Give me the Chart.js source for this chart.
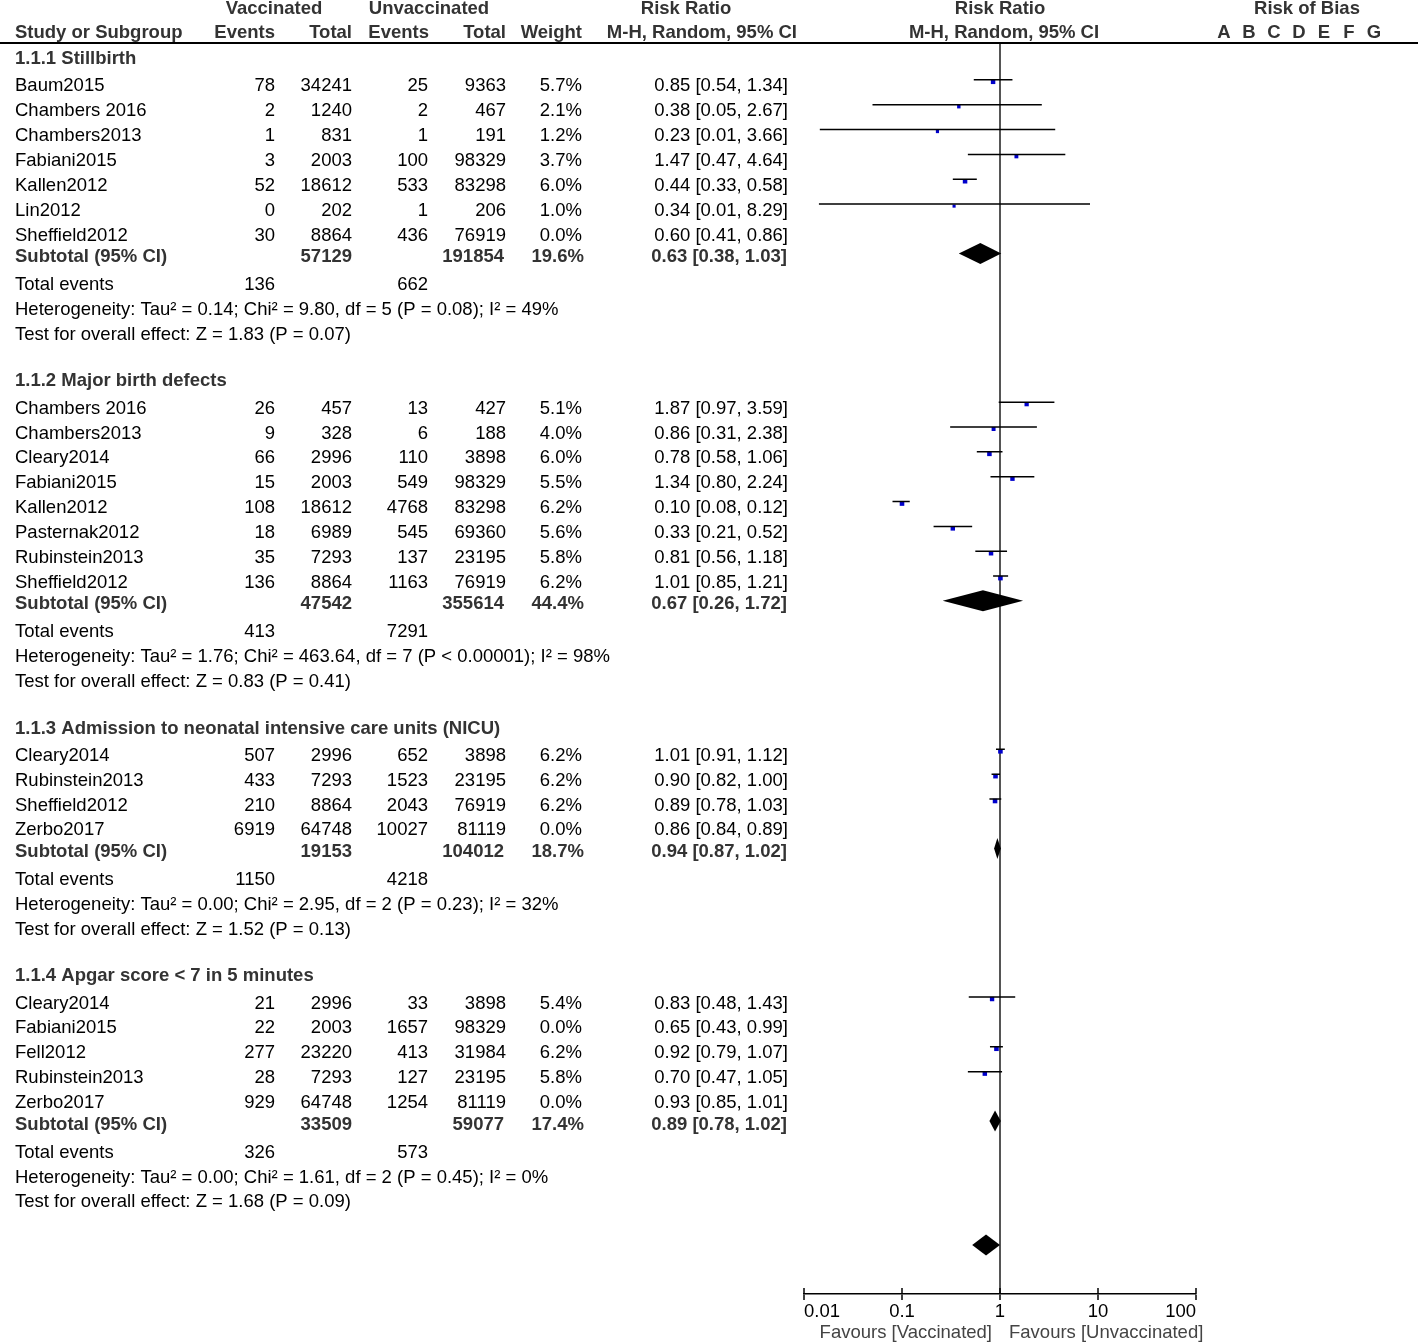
<!DOCTYPE html>
<html>
<head>
<meta charset="utf-8">
<script src="https://cdn.jsdelivr.net/npm/chart.js@4.4.1/dist/chart.umd.min.js"></script>
<style>
  html, body { margin: 0; padding: 0; background: #fff; }
  #wrap { width: 1418px; height: 1343px; position: relative; }
</style>
</head>
<body>
<div id="wrap"><canvas id="forest"></canvas></div>
<script>
// ---- data ----
const groupNames = [
  '1.1.1 Stillbirth',
  '1.1.2 Major birth defects',
  '1.1.3 Admission to neonatal intensive care units (NICU)',
  '1.1.4 Apgar score < 7 in 5 minutes'
];
const studyGroup = [0, 0, 0, 0, 0, 0, 0, 1, 1, 1, 1, 1, 1, 1, 1, 2, 2, 2, 2, 3, 3, 3, 3, 3];
const studies = [
  'Baum2015', 'Chambers 2016', 'Chambers2013', 'Fabiani2015', 'Kallen2012', 'Lin2012', 'Sheffield2012',
  'Chambers 2016', 'Chambers2013', 'Cleary2014', 'Fabiani2015', 'Kallen2012', 'Pasternak2012', 'Rubinstein2013', 'Sheffield2012',
  'Cleary2014', 'Rubinstein2013', 'Sheffield2012', 'Zerbo2017',
  'Cleary2014', 'Fabiani2015', 'Fell2012', 'Rubinstein2013', 'Zerbo2017'
];
const vaccEvents   = [78, 2, 1, 3, 52, 0, 30,  26, 9, 66, 15, 108, 18, 35, 136,  507, 433, 210, 6919,  21, 22, 277, 28, 929];
const vaccTotal    = [34241, 1240, 831, 2003, 18612, 202, 8864,  457, 328, 2996, 2003, 18612, 6989, 7293, 8864,  2996, 7293, 8864, 64748,  2996, 2003, 23220, 7293, 64748];
const unvaccEvents = [25, 2, 1, 100, 533, 1, 436,  13, 6, 110, 549, 4768, 545, 137, 1163,  652, 1523, 2043, 10027,  33, 1657, 413, 127, 1254];
const unvaccTotal  = [9363, 467, 191, 98329, 83298, 206, 76919,  427, 188, 3898, 98329, 83298, 69360, 23195, 76919,  3898, 23195, 76919, 81119,  3898, 98329, 31984, 23195, 81119];
const weights      = [5.7, 2.1, 1.2, 3.7, 6.0, 1.0, 0.0,  5.1, 4.0, 6.0, 5.5, 6.2, 5.6, 5.8, 6.2,  6.2, 6.2, 6.2, 0.0,  5.4, 0.0, 6.2, 5.8, 0.0];
const rr           = [0.85, 0.38, 0.23, 1.47, 0.44, 0.34, 0.60,  1.87, 0.86, 0.78, 1.34, 0.10, 0.33, 0.81, 1.01,  1.01, 0.90, 0.89, 0.86,  0.83, 0.65, 0.92, 0.70, 0.93];
// the two lowest bounds print as 0.01 but are plotted a little above it
const rrLow        = [0.54, 0.05, 0.0145, 0.47, 0.33, 0.0142, 0.41,  0.97, 0.31, 0.58, 0.80, 0.08, 0.21, 0.56, 0.85,  0.91, 0.82, 0.78, 0.84,  0.48, 0.43, 0.79, 0.47, 0.85];
const rrHigh       = [1.34, 2.67, 3.66, 4.64, 0.58, 8.29, 0.86,  3.59, 2.38, 1.06, 2.24, 0.12, 0.52, 1.18, 1.21,  1.12, 1.00, 1.03, 0.89,  1.43, 0.99, 1.07, 1.05, 1.01];

const subVaccTotal   = [57129, 47542, 19153, 33509];
const subUnvaccTotal = [191854, 355614, 104012, 59077];
const subWeight      = [19.6, 44.4, 18.7, 17.4];
const subRR          = [0.63, 0.67, 0.94, 0.89];
const subLow         = [0.38, 0.26, 0.87, 0.78];
const subHigh        = [1.03, 1.72, 1.02, 1.02];
const totVaccEvents   = [136, 413, 1150, 326];
const totUnvaccEvents = [662, 7291, 4218, 573];
const heterogeneity = [
  'Heterogeneity: Tau² = 0.14; Chi² = 9.80, df = 5 (P = 0.08); I² = 49%',
  'Heterogeneity: Tau² = 1.76; Chi² = 463.64, df = 7 (P < 0.00001); I² = 98%',
  'Heterogeneity: Tau² = 0.00; Chi² = 2.95, df = 2 (P = 0.23); I² = 32%',
  'Heterogeneity: Tau² = 0.00; Chi² = 1.61, df = 2 (P = 0.45); I² = 0%'
];
const overallEffect = [
  'Test for overall effect: Z = 1.83 (P = 0.07)',
  'Test for overall effect: Z = 0.83 (P = 0.41)',
  'Test for overall effect: Z = 1.52 (P = 0.13)',
  'Test for overall effect: Z = 1.68 (P = 0.09)'
];
// pooled diamond at the bottom (no label in the figure)
const totalRR = 0.72, totalLow = 0.52, totalHigh = 1.00;

const tickValues = [0.01, 0.1, 1, 10, 100];
const tickLabels = ['0.01', '0.1', '1', '10', '100'];
const biasLetters = ['A', 'B', 'C', 'D', 'E', 'F', 'G'];

// ---- layout ----
const ROW = 24.85;          // px per row
const HEADER_LINE = 43;
const AXIS_Y = 1294;
const TEXT_SHIFT = 2;       // text sits a bit lower than the marks
const FONT = "'Liberation Sans', Arial, sans-serif";
const REG = '18.5px ' + FONT;
const BOLD = 'bold 18.5px ' + FONT;

const groupY = [], studyY = [], subY = [], evY = [], hetY = [], testY = [];
let cur = 57 / ROW;
for (let g = 0; g < groupNames.length; g++) {
  if (g > 0) cur += 1.87;
  groupY.push(cur);
  cur += 0.1;
  studies.forEach((s, i) => {
    if (studyGroup[i] === g) { cur += 1; studyY[i] = cur; }
  });
  cur += 0.87; subY.push(cur);
  cur += 1.13; evY.push(cur);
  cur += 1; hetY.push(cur);
  cur += 1; testY.push(cur);
}
const totalY = cur + 1.8;

const fmtCI = (m, l, h) => m.toFixed(2) + ' [' + l.toFixed(2) + ', ' + h.toFixed(2) + ']';

// CI whiskers and point squares (studies with 0% weight are not drawn)
const ciData = [];
const pointData = [];
const pointSize = [];
studies.forEach((s, i) => {
  if (weights[i] <= 0) return;
  ciData.push({ x: rrLow[i], y: studyY[i] - 0.18 }, { x: rrHigh[i], y: studyY[i] - 0.18 }, { x: null, y: null });
  pointData.push({ x: rr[i], y: studyY[i] - 0.1 });
  pointSize.push(2 + weights[i] * 0.2);
});

const diamonds = groupNames.map((g, k) => ({ m: subRR[k], l: subLow[k], h: subHigh[k], y: subY[k] - 0.06 }));
diamonds.push({ m: totalRR, l: totalLow, h: totalHigh, y: totalY });

const textPlugin = {
  id: 'forestText',
  afterDraw(chart) {
    const ctx = chart.ctx;
    const ys = chart.scales.y;
    const xs = chart.scales.x;
    const py = v => ys.getPixelForValue(v) + TEXT_SHIFT;
    const put = (txt, x, y, align, font, color) => {
      ctx.font = font;
      ctx.fillStyle = color;
      ctx.textAlign = align;
      ctx.textBaseline = 'middle';
      ctx.fillText(txt, x, y);
    };
    ctx.save();

    // diamonds
    ctx.fillStyle = '#000';
    diamonds.forEach(d => {
      const yc = ys.getPixelForValue(d.y), hh = 10.5;
      ctx.beginPath();
      ctx.moveTo(xs.getPixelForValue(d.l), yc);
      ctx.lineTo(xs.getPixelForValue(d.m), yc - hh);
      ctx.lineTo(xs.getPixelForValue(d.h), yc);
      ctx.lineTo(xs.getPixelForValue(d.m), yc + hh);
      ctx.closePath();
      ctx.fill();
    });

    // tick stubs above the axis line
    ctx.strokeStyle = '#000';
    ctx.lineWidth = 1.5;
    xs.ticks.forEach(t => {
      const x = xs.getPixelForValue(t.value);
      ctx.beginPath();
      ctx.moveTo(x, AXIS_Y - 6);
      ctx.lineTo(x, AXIS_Y);
      ctx.stroke();
    });

    // header rule
    ctx.lineWidth = 2;
    ctx.beginPath();
    ctx.moveTo(0, HEADER_LINE);
    ctx.lineTo(1418, HEADER_LINE);
    ctx.stroke();

    // column headers
    const hc = '#333';
    put('Vaccinated', 274, 9, 'center', BOLD, hc);
    put('Unvaccinated', 429, 9, 'center', BOLD, hc);
    put('Risk Ratio', 686, 9, 'center', BOLD, hc);
    put('Risk Ratio', 1000, 9, 'center', BOLD, hc);
    put('Risk of Bias', 1307, 9, 'center', BOLD, hc);
    put('Study or Subgroup', 15, 33, 'left', BOLD, hc);
    put('Events', 275, 33, 'right', BOLD, hc);
    put('Total', 352, 33, 'right', BOLD, hc);
    put('Events', 429, 33, 'right', BOLD, hc);
    put('Total', 506, 33, 'right', BOLD, hc);
    put('Weight', 582, 33, 'right', BOLD, hc);
    put('M-H, Random, 95% CI', 797, 33, 'right', BOLD, hc);
    put('M-H, Random, 95% CI', 1004, 33, 'center', BOLD, hc);
    biasLetters.forEach((l, i) => put(l, 1224 + i * 25, 33, 'center', BOLD, hc));

    // groups
    groupNames.forEach((g, k) => {
      put(g, 15, py(groupY[k]), 'left', BOLD, hc);
      const sy = py(subY[k]);
      put('Subtotal (95% CI)', 15, sy, 'left', BOLD, hc);
      put(String(subVaccTotal[k]), 352, sy, 'right', BOLD, hc);
      put(String(subUnvaccTotal[k]), 504, sy, 'right', BOLD, hc);
      put(subWeight[k].toFixed(1) + '%', 584, sy, 'right', BOLD, hc);
      put(fmtCI(subRR[k], subLow[k], subHigh[k]), 787, sy, 'right', BOLD, hc);
      const ey = py(evY[k]);
      put('Total events', 15, ey, 'left', REG, '#000');
      put(String(totVaccEvents[k]), 275, ey, 'right', REG, '#000');
      put(String(totUnvaccEvents[k]), 428, ey, 'right', REG, '#000');
      put(heterogeneity[k], 15, py(hetY[k]), 'left', REG, '#000');
      put(overallEffect[k], 15, py(testY[k]), 'left', REG, '#000');
    });

    // study rows
    studies.forEach((s, i) => {
      const y = py(studyY[i]);
      put(s, 15, y, 'left', REG, '#000');
      put(String(vaccEvents[i]), 275, y, 'right', REG, '#000');
      put(String(vaccTotal[i]), 352, y, 'right', REG, '#000');
      put(String(unvaccEvents[i]), 428, y, 'right', REG, '#000');
      put(String(unvaccTotal[i]), 506, y, 'right', REG, '#000');
      put(weights[i].toFixed(1) + '%', 582, y, 'right', REG, '#000');
      put(fmtCI(rr[i], rrLow[i], rrHigh[i]), 788, y, 'right', REG, '#000');
    });

    // axis captions
    put('Favours [Vaccinated]', 992, 1333, 'right', REG, '#444');
    put('Favours [Unvaccinated]', 1009, 1333, 'left', REG, '#444');
    ctx.restore();
  }
};

new Chart(document.getElementById('forest'), {
  type: 'scatter',
  data: {
    datasets: [
      {
        label: 'CI',
        data: ciData,
        showLine: true,
        spanGaps: false,
        borderColor: '#000',
        borderWidth: 1.5,
        pointRadius: 0,
        pointHoverRadius: 0
      },
      {
        label: 'Risk ratio',
        data: pointData,
        showLine: false,
        pointStyle: 'rect',
        pointRadius: pointSize,
        backgroundColor: '#0000cc',
        borderWidth: 0
      }
    ]
  },
  options: {
    responsive: true,
    maintainAspectRatio: false,
    animation: false,
    events: [],
    layout: { padding: { left: 804, right: 222, top: HEADER_LINE, bottom: 0 } },
    plugins: { legend: { display: false }, tooltip: { enabled: false } },
    scales: {
      x: {
        type: 'logarithmic',
        min: 0.01,
        max: 100,
        position: 'bottom',
        afterBuildTicks: s => { s.ticks = tickValues.map(v => ({ value: v })); },
        afterFit: s => { s.height = 1343 - AXIS_Y; },
        ticks: {
          autoSkip: false,
          maxRotation: 0,
          align: 'inner',
          padding: 1,
          color: '#000',
          font: { family: FONT, size: 18.5 },
          callback: (v, i) => tickLabels[i]
        },
        grid: {
          drawOnChartArea: true,
          color: c => (c.tick && c.tick.value === 1 ? '#555' : 'rgba(0,0,0,0)'),
          lineWidth: c => (c.tick && c.tick.value === 1 ? 2 : 0),
          tickColor: '#000',
          tickWidth: 1.5,
          tickLength: 6
        },
        border: { display: true, color: '#000', width: 1.5 }
      },
      y: {
        display: false,
        reverse: true,
        min: HEADER_LINE / ROW,
        max: AXIS_Y / ROW
      }
    }
  },
  plugins: [textPlugin]
});
</script>
</body>
</html>
